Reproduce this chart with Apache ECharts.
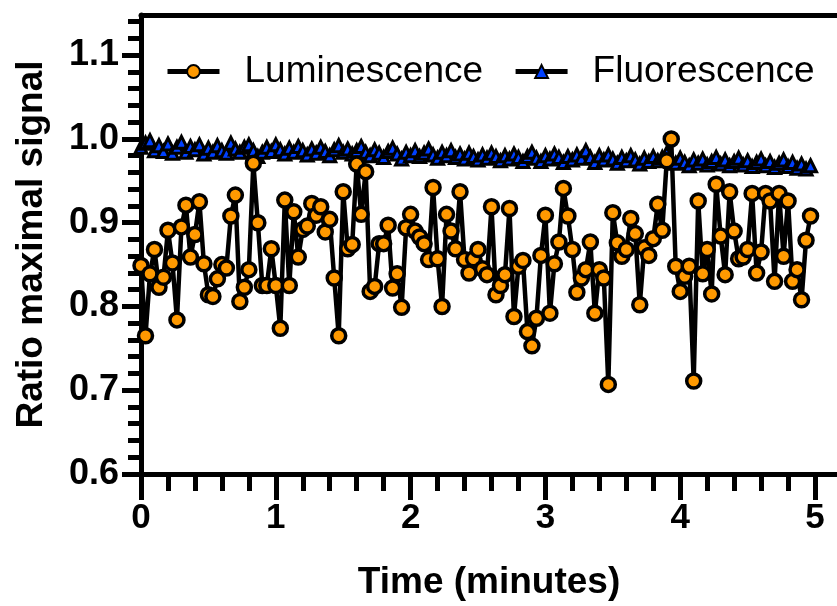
<!DOCTYPE html>
<html>
<head>
<meta charset="utf-8">
<script src="https://cdn.jsdelivr.net/npm/echarts@6/dist/echarts.min.js"></script>
<style>
  html, body { margin: 0; padding: 0; background: #fff; }
  #main { width: 837px; height: 606px; }
</style>
</head>
<body>
<div id="main"></div>
<script>
// luminescence, one reading every 2 s
var luminescence = [
    0.849, 0.765, 0.839, 0.868, 0.823, 0.835, 0.891, 0.852, 0.784, 0.895, 0.921, 0.859, 0.886, 0.925, 0.851, 0.814, 0.812, 0.833, 0.850, 0.846, 0.908, 0.933, 0.806, 0.823, 0.844,
    0.971, 0.900, 0.825, 0.825, 0.869, 0.825, 0.774, 0.927, 0.825, 0.913, 0.859, 0.892, 0.896, 0.923, 0.909, 0.919, 0.889, 0.904, 0.834, 0.765, 0.937, 0.869, 0.874, 0.970, 0.910,
    0.961, 0.818, 0.824, 0.875, 0.875, 0.897, 0.822, 0.839, 0.799, 0.894, 0.910, 0.890, 0.883, 0.875, 0.856, 0.942, 0.857, 0.800, 0.910, 0.890, 0.869, 0.937, 0.856, 0.840, 0.857,
    0.868, 0.845, 0.838, 0.919, 0.814, 0.825, 0.838, 0.917, 0.788, 0.848, 0.855, 0.770, 0.753, 0.786, 0.861, 0.909, 0.792, 0.851, 0.877, 0.941, 0.908, 0.868, 0.817, 0.834, 0.844,
    0.877, 0.792, 0.844, 0.834, 0.707, 0.912, 0.876, 0.860, 0.868, 0.905, 0.887, 0.802, 0.870, 0.861, 0.881, 0.922, 0.891, 0.974, 1.000, 0.848, 0.818, 0.836, 0.848, 0.711, 0.926,
    0.839, 0.868, 0.815, 0.946, 0.884, 0.838, 0.937, 0.890, 0.857, 0.859, 0.868, 0.935, 0.840, 0.865, 0.935, 0.926, 0.830, 0.935, 0.860, 0.926, 0.830, 0.844, 0.808, 0.879, 0.908
]

// fluorescence, same readings
var fluorescence = [
    0.990, 0.995, 0.998, 0.986, 0.992, 0.985, 0.994, 0.983, 0.990, 0.996, 0.984, 0.991, 0.987, 0.993, 0.982, 0.989, 0.984, 0.992, 0.986, 0.983, 0.995, 0.988, 0.984, 0.990, 0.993,
    0.986, 0.979, 0.984, 0.990, 0.985, 0.993, 0.987, 0.982, 0.989, 0.984, 0.991, 0.986, 0.981, 0.988, 0.983, 0.990, 0.985, 0.980, 0.987, 0.992, 0.984, 0.988, 0.982, 0.986, 0.991,
    0.984, 0.980, 0.987, 0.983, 0.978, 0.985, 0.989, 0.982, 0.976, 0.984, 0.980, 0.986, 0.979, 0.983, 0.988, 0.981, 0.977, 0.984, 0.980, 0.986, 0.978, 0.982, 0.976, 0.983, 0.979,
    0.975, 0.981, 0.977, 0.983, 0.979, 0.974, 0.980, 0.976, 0.982, 0.978, 0.973, 0.979, 0.984, 0.977, 0.973, 0.980, 0.976, 0.982, 0.978, 0.972, 0.979, 0.975, 0.981, 0.977, 0.986,
    0.978, 0.972, 0.980, 0.975, 0.981, 0.976, 0.971, 0.978, 0.974, 0.980, 0.975, 0.970, 0.977, 0.973, 0.979, 0.974, 0.978, 0.983, 0.975, 0.971, 0.977, 0.972, 0.968, 0.975, 0.971,
    0.976, 0.969, 0.973, 0.978, 0.970, 0.975, 0.968, 0.973, 0.977, 0.969, 0.974, 0.967, 0.972, 0.976, 0.968, 0.973, 0.966, 0.971, 0.975, 0.967, 0.972, 0.965, 0.970, 0.964, 0.968
]

var xMajor = [0, 1, 2, 3, 4, 5]
var xMinor = [0.2, 0.4, 0.6, 0.8, 1.2, 1.4, 1.6, 1.8, 2.2, 2.4, 2.6, 2.8, 3.2, 3.4, 3.6, 3.8, 4.2, 4.4, 4.6, 4.8]
var yMajor = [0.6, 0.7, 0.8, 0.9, 1.0, 1.1]
var yMinor = [0.62, 0.64, 0.66, 0.68, 0.72, 0.74, 0.76, 0.78, 0.82, 0.84, 0.86, 0.88,
    0.92, 0.94, 0.96, 0.98, 1.02, 1.04, 1.06, 1.08, 1.12, 1.14]

var font = 'Liberation Sans, Arial, Helvetica, sans-serif'

// sample times in minutes (every 2 seconds)
var pairs = (values) => {
    var result = []
    for (var i = 0; i < values.length; i++) {
        result.push([i * 2 / 60, values[i]])
    }
    return result
}

var blank = {show: false}
var xRange = {type: 'value', min: 0, max: 5.163, splitLine: blank}
var yRange = {type: 'value', min: 0.6, max: 1.148, splitLine: blank}

var chart = echarts.init(document.querySelector('#main'), null, {renderer: 'canvas'})

chart.setOption({
    animation: false,
    backgroundColor: '#fff',
    grid: {left: 141, right: 0, top: 15, bottom: 129},
    legend: {
        left: 160,
        top: 48,
        data: ['Luminescence', 'Fluorescence'],
        itemWidth: 52,
        itemHeight: 16,
        itemGap: 30,
        lineStyle: {width: 5},
        textStyle: {fontFamily: font, fontSize: 37, color: '#000', padding: [0, 0, 0, 20]},
    },
    xAxis: [
        Object.assign({}, xRange, {
            position: 'bottom',
            name: 'Time (minutes)',
            nameLocation: 'middle',
            nameGap: 90,
            nameTextStyle: {fontFamily: font, fontSize: 37, fontWeight: 'bold', color: '#000'},
            axisLine: {lineStyle: {color: '#000', width: 5}},
            axisTick: {length: 26, lineStyle: {color: '#000', width: 5}, customValues: xMajor},
            axisLabel: {
                margin: 27, fontFamily: font, fontSize: 35, fontWeight: 'bold', color: '#000',
                customValues: xMajor,
            },
        }),
        Object.assign({}, xRange, {
            position: 'bottom',
            axisLine: blank,
            axisTick: {length: 17, lineStyle: {color: '#000', width: 5}, customValues: xMinor},
            axisLabel: blank,
        }),
        Object.assign({}, xRange, {
            position: 'top',
            axisLine: {lineStyle: {color: '#000', width: 5}},
            axisTick: blank,
            axisLabel: blank,
        }),
    ],
    yAxis: [
        Object.assign({}, yRange, {
            position: 'left',
            name: 'Ratio maximal signal',
            nameLocation: 'middle',
            nameGap: 91,
            nameTextStyle: {fontFamily: font, fontSize: 37, fontWeight: 'bold', color: '#000'},
            axisLine: {show: true, lineStyle: {color: '#000', width: 5}},
            axisTick: {show: true, length: 19, lineStyle: {color: '#000', width: 5}, customValues: yMajor},
            axisLabel: {
                margin: 22, fontFamily: font, fontSize: 36, fontWeight: 'bold', color: '#000',
                customValues: yMajor, formatter: (v) => v.toFixed(1),
            },
        }),
        Object.assign({}, yRange, {
            position: 'left',
            axisLine: blank,
            axisTick: {show: true, length: 13, lineStyle: {color: '#000', width: 5}, customValues: yMinor},
            axisLabel: blank,
        }),
    ],
    series: [
        {
            name: 'Fluorescence',
            type: 'line',
            data: pairs(fluorescence),
            symbol: 'triangle',
            symbolSize: 12,
            lineStyle: {color: '#000', width: 4.5},
            itemStyle: {color: '#0040ff', borderColor: '#000', borderWidth: 3},
        },
        {
            name: 'Luminescence',
            type: 'line',
            data: pairs(luminescence),
            symbol: 'circle',
            symbolSize: 14,
            lineStyle: {color: '#000', width: 4.5},
            itemStyle: {color: '#ff9900', borderColor: '#000', borderWidth: 3.5},
        },
    ],
})
</script>
</body>
</html>
